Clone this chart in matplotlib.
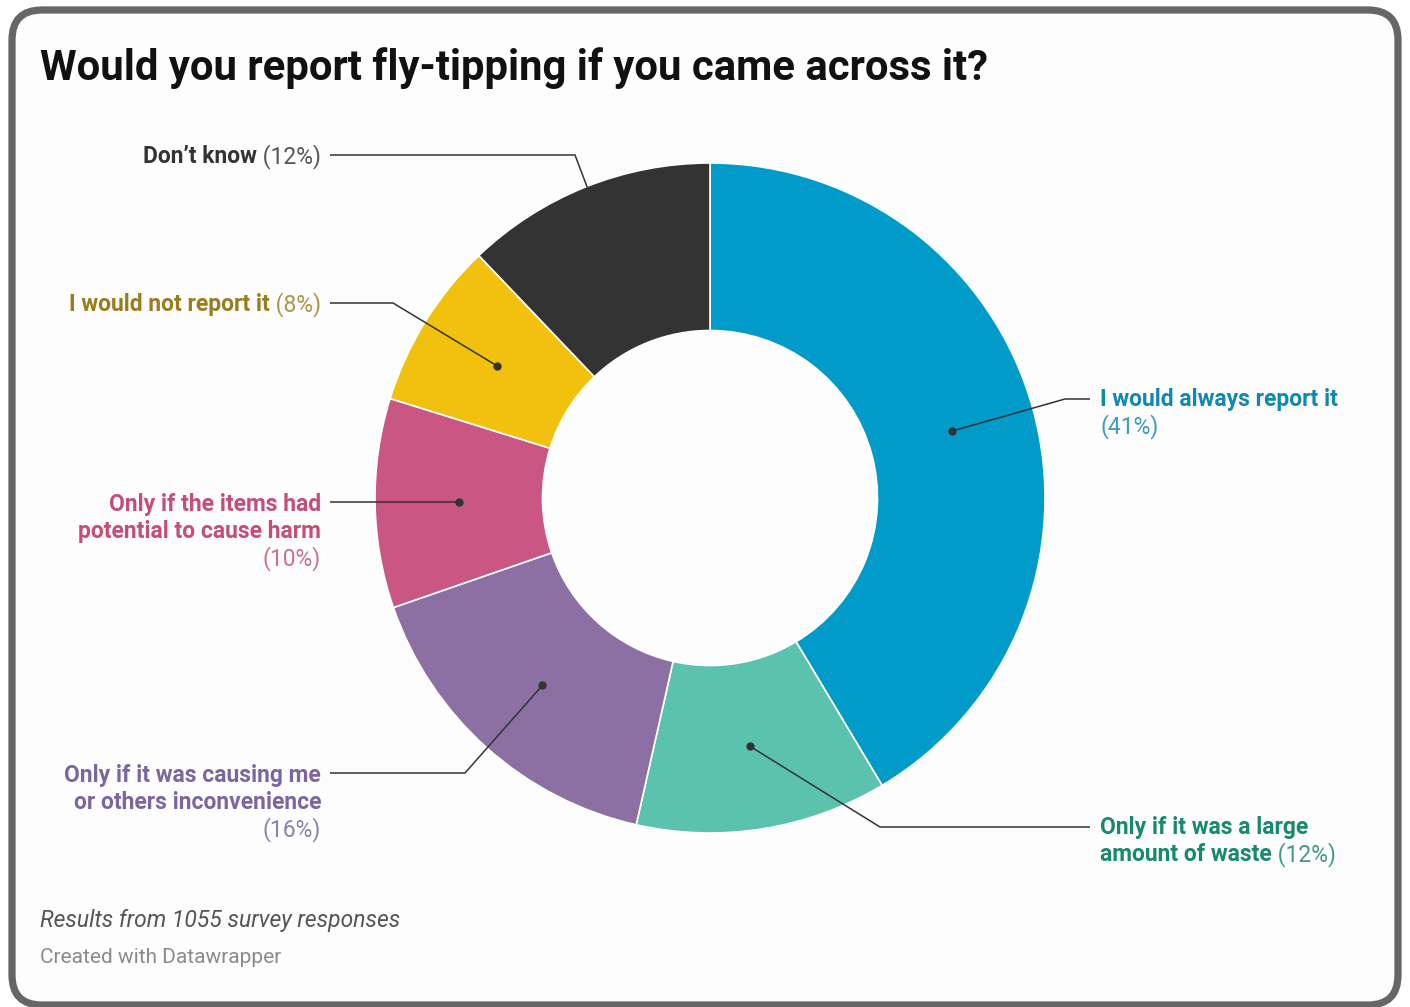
import numpy as np
import matplotlib
matplotlib.use("Agg")
import matplotlib.pyplot as plt
from matplotlib.patches import FancyBboxPatch

plt.rcParams['font.family'] = ['Roboto', 'DejaVu Sans']

# survey answers, clockwise from 12 o'clock
answers = ["I would always report it", "Only if it was a large amount of waste",
           "Only if it was causing me or others inconvenience",
           "Only if the items had potential to cause harm",
           "I would not report it", "Don't know"]
shares = [41, 12, 16, 10, 8, 12]
slice_colors = ["#009bc9", "#5bc2ae", "#8c6fa3", "#c95683", "#f2c10d", "#333333"]
label_bold = ["#1188b0", "#17896f", "#7b67a0", "#c44d7a", "#9a7c1c", "#333333"]
label_light = ["#3a9cbf", "#3e9c86", "#8d80ab", "#c96f93", "#ad9443", "#555555"]

W, H = 1410, 1007
fig = plt.figure(figsize=(W / 100, H / 100), dpi=100)
fig.patch.set_facecolor("white")
ax = fig.add_axes([0, 0, 1, 1])
ax.axis("off")


def Y(y):
    return H - y


# card frame
card = FancyBboxPatch((12, Y(1005)), 1386, 995, boxstyle="round,pad=0,rounding_size=30",
                      facecolor="#fdfdfd", edgecolor="#666666", linewidth=5.2, zorder=0)
ax.add_patch(card)

cx, cy, R = 710, Y(498), 335
wedges, _ = ax.pie(shares, colors=slice_colors, startangle=90, counterclock=False,
                   center=(cx, cy), radius=R,
                   wedgeprops=dict(width=R * 0.5, edgecolor="white", linewidth=1.2))
ax.set_xlim(0, W)
ax.set_ylim(0, H)
ax.set_aspect("equal")

# dot positions in the middle of each ring slice
total = sum(shares)
cum = np.cumsum([0] + shares)
dots = []
for i in range(len(shares)):
    mid = (cum[i] + cum[i + 1]) / 2 / total * 2 * np.pi
    r = R * 0.75
    dots.append((cx + r * np.sin(mid), cy + r * np.cos(mid)))

# leader line elbows, ending next to the labels
elbows = [
    [(1065, 399), (1090, 399)],
    [(880, 827), (1090, 827)],
    [(465, 773), (330, 773)],
    [(459, 502), (330, 502)],
    [(393, 303), (330, 303)],
    [(575, 155), (330, 155)],
]
for i, (dx, dy) in enumerate(dots):
    xs = [dx] + [p[0] for p in elbows[i]]
    ys = [dy] + [Y(p[1]) for p in elbows[i]]
    ax.plot(xs, ys, color="#333333", lw=1.1, zorder=5, solid_capstyle="butt")
    ax.plot(dx, dy, "o", color="#333333", ms=5, zorder=6)

fig.canvas.draw()
renderer = fig.canvas.get_renderer()
FS = 16.5


def put_line(x, y, parts, ha):
    # parts: list of (text, weight, color); draw pieces next to each other
    if ha == "left":
        cur = x
        for s, w, c in parts:
            t = ax.text(cur, Y(y), s, fontsize=FS, fontweight=w, color=c,
                        ha="left", va="baseline")
            cur = t.get_window_extent(renderer).x1
    else:
        cur = x
        for s, w, c in reversed(parts):
            t = ax.text(cur, Y(y), s, fontsize=FS, fontweight=w, color=c,
                        ha="right", va="baseline")
            cur = t.get_window_extent(renderer).x0


LS = 27
# right side labels
put_line(1100, 406, [("I would always report it", "bold", label_bold[0])], "left")
put_line(1100, 406 + LS, [("(" + str(shares[0]) + "%)", "normal", label_light[0])], "left")
put_line(1100, 834, [("Only if it was a large", "bold", label_bold[1])], "left")
put_line(1100, 834 + LS, [("amount of waste", "bold", label_bold[1]),
                          (" (" + str(shares[1]) + "%)", "normal", label_light[1])], "left")

# left side labels
put_line(321, 782, [("Only if it was causing me", "bold", label_bold[2])], "right")
put_line(321, 782 + LS, [("or others inconvenience", "bold", label_bold[2])], "right")
put_line(321, 782 + 2 * LS, [("(" + str(shares[2]) + "%)", "normal", label_light[2])], "right")
put_line(321, 511, [("Only if the items had", "bold", label_bold[3])], "right")
put_line(321, 511 + LS, [("potential to cause harm", "bold", label_bold[3])], "right")
put_line(321, 511 + 2 * LS, [("(" + str(shares[3]) + "%)", "normal", label_light[3])], "right")
put_line(321, 311, [("I would not report it", "bold", label_bold[4]),
                    (" (" + str(shares[4]) + "%)", "normal", label_light[4])], "right")
put_line(321, 163, [("Don\u2019t know", "bold", label_bold[5]),
                    (" (" + str(shares[5]) + "%)", "normal", label_light[5])], "right")

ax.text(40, Y(80), "Would you report fly-tipping if you came across it?", fontsize=30.2,
        fontweight="bold", color="#111111", ha="left", va="baseline")
ax.text(40, Y(927), "Results from 1055 survey responses", fontsize=16.5, style="italic",
        color="#555555", ha="left", va="baseline")
ax.text(40, Y(963), "Created with Datawrapper", fontsize=15, color="#8a8a8a",
        ha="left", va="baseline")

fig.savefig("out.png", dpi=100, facecolor="white")
